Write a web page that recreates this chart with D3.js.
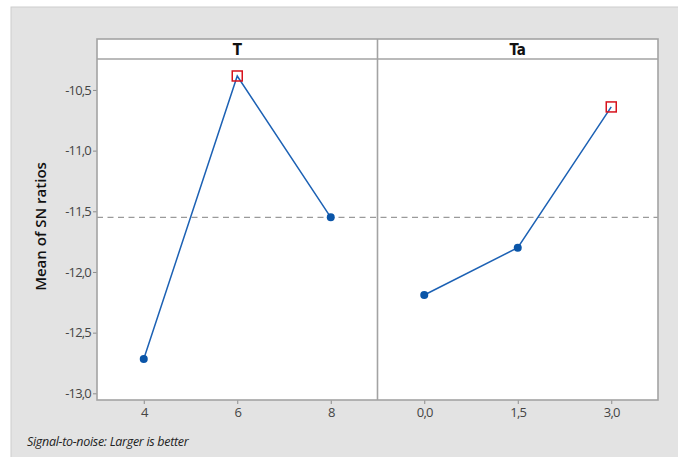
<!DOCTYPE html>
<html>
<head>
<meta charset="utf-8">
<script src="https://cdn.jsdelivr.net/npm/d3@7"></script>
<style>
  html, body { margin: 0; padding: 0; background: #ffffff; }
  svg { display: block; font-family: "Open Sans", "Noto Sans", sans-serif; }
</style>
</head>
<body>
<svg id="chart" width="678" height="457"></svg>
<script>
// Main effects plot for SN ratios, one panel per factor
const factors = ["T", "Ta"];
const levelsT = ["4", "6", "8"];
const valuesT = [-12.717, -10.385, -11.55];
const levelsTa = ["0,0", "1,5", "3,0"];
const valuesTa = [-12.19, -11.80, -10.64];
const yTicks = [-10.5, -11.0, -11.5, -12.0, -12.5, -13.0];
const yLabel = "Mean of SN ratios";
const footnote = "Signal-to-noise: Larger is better";

const panels = [
  { name: factors[0], levels: levelsT, values: valuesT },
  { name: factors[1], levels: levelsTa, values: valuesTa }
];

const grandMean = d3.mean(valuesT);

const svg = d3.select("#chart");

// background frame
svg.append("rect").attr("x", 11).attr("y", 7).attr("width", 700).attr("height", 470)
  .attr("fill", "#e3e3e3").attr("stroke", "#cdcdcd").attr("stroke-width", 1);

const plotLeft = 97, plotRight = 658, stripTop = 39, stripH = 20, plotBottom = 400;
const panelW = (plotRight - plotLeft) / panels.length;
const plotTop = stripTop + stripH;

const y = d3.scaleLinear().domain([-13.055, -10.245]).range([plotBottom, plotTop]);

// panel backgrounds
svg.append("rect").attr("x", plotLeft).attr("y", stripTop)
  .attr("width", plotRight - plotLeft).attr("height", plotBottom - stripTop)
  .attr("fill", "#ffffff");

// mean reference line across both panels
svg.append("line").attr("x1", plotLeft).attr("x2", plotRight)
  .attr("y1", y(grandMean)).attr("y2", y(grandMean))
  .attr("stroke", "#9a9a9a").attr("stroke-width", 1.3).attr("stroke-dasharray", "6,4.5");

const fmt = v => d3.format(".1f")(v).replace(".", ",").replace("−", "-");

// y axis
const yAxis = d3.axisLeft(y).tickValues(yTicks).tickSize(4).tickPadding(2).tickFormat(fmt);
const gy = svg.append("g").attr("transform", `translate(${plotLeft},0)`).call(yAxis);
gy.select(".domain").remove();
gy.selectAll(".tick line").attr("stroke", "#8c8c8c");
gy.selectAll(".tick text").attr("fill", "#454545").style("font-size", "13px")
  .style("font-family", "'Open Sans', sans-serif").attr("letter-spacing", "-0.8px");

panels.forEach((p, i) => {
  const x0 = plotLeft + i * panelW;
  const x = d3.scalePoint().domain(p.levels).range([x0, x0 + panelW]).padding(0.5);

  // strip label
  svg.append("text").attr("x", x0 + panelW / 2).attr("y", stripTop + 15.5)
    .attr("text-anchor", "middle").style("font-size", "15px").style("font-weight", "bold")
    .style("font-family", "'DejaVu Sans Condensed', 'Open Sans', sans-serif")
    .attr("fill", "#111").text(p.name);

  // x axis
  const xAxis = d3.axisBottom(x).tickSize(4).tickPadding(4);
  const gx = svg.append("g").attr("transform", `translate(0,${plotBottom})`).call(xAxis);
  gx.select(".domain").remove();
  gx.selectAll(".tick line").attr("stroke", "#8c8c8c");
  gx.selectAll(".tick text").attr("fill", "#454545").style("font-size", "13px")
    .style("font-family", "'Open Sans', sans-serif").attr("letter-spacing", "-0.8px");

  const pts = p.levels.map((l, k) => ({ lv: l, v: p.values[k] }));
  const maxV = d3.max(p.values);

  svg.append("path").datum(pts)
    .attr("d", d3.line().x(d => x(d.lv)).y(d => y(d.v)))
    .attr("fill", "none").attr("stroke", "#1c61b4").attr("stroke-width", 1.5);

  pts.forEach(d => {
    if (d.v === maxV) {
      svg.append("rect").attr("x", x(d.lv) - 5).attr("y", y(d.v) - 5)
        .attr("width", 10).attr("height", 10)
        .attr("fill", "none").attr("stroke", "#d7121d").attr("stroke-width", 1.5);
    } else {
      svg.append("circle").attr("cx", x(d.lv)).attr("cy", y(d.v)).attr("r", 4)
        .attr("fill", "#0a55a8");
    }
  });
});

// panel borders
const border = svg.append("g").attr("fill", "none").attr("stroke", "#a3a3a3").attr("stroke-width", 1.6);
border.append("rect").attr("x", plotLeft).attr("y", stripTop)
  .attr("width", plotRight - plotLeft).attr("height", plotBottom - stripTop);
border.append("line").attr("x1", plotLeft).attr("x2", plotRight).attr("y1", plotTop).attr("y2", plotTop);
border.append("line").attr("x1", plotLeft + panelW).attr("x2", plotLeft + panelW)
  .attr("y1", stripTop).attr("y2", plotBottom);

// axis title
svg.append("text").attr("transform", `translate(46,${(plotTop + plotBottom) / 2 - 3}) rotate(-90)`)
  .attr("text-anchor", "middle").style("font-size", "15px").style("font-weight", "600")
  .attr("fill", "#111").text(yLabel);

// footnote
svg.append("text").attr("x", 27).attr("y", 446).style("font-size", "12.5px")
  .style("font-style", "italic").attr("fill", "#222").attr("letter-spacing", "-0.3px").text(footnote);
</script>
</body>
</html>
